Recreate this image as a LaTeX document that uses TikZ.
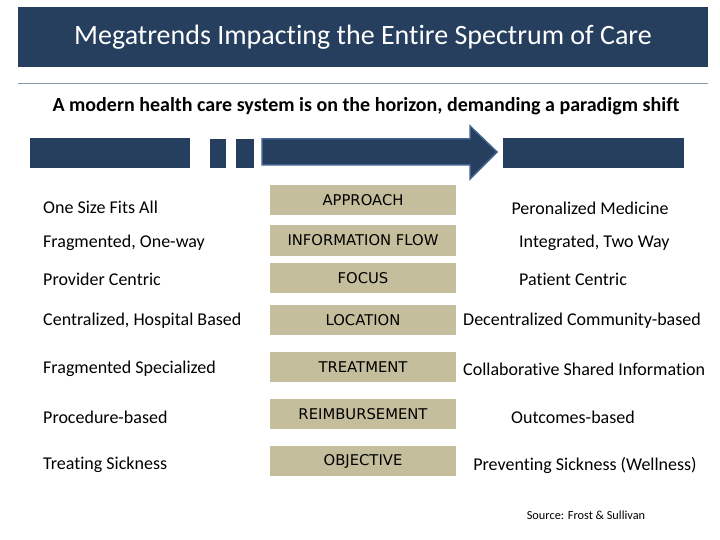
\documentclass[tikz,border=0pt]{standalone}
\usepackage{fontspec}
\setmainfont{Carlito}[Ligatures=NoCommon]
\newfontfamily\boxfont{DejaVu Sans}
\usepackage{tikz}
\usetikzlibrary{positioning}
\definecolor{navy}{HTML}{263F5E}
\definecolor{navyedge}{HTML}{41628C}
\definecolor{tan}{HTML}{C5BE9D}
\definecolor{rule}{HTML}{8497AE}

\begin{document}
\begin{tikzpicture}[
  x=1pt, y=-1pt,
  crit/.style={anchor=west, inner sep=0pt, font=\fontsize{18}{21}\selectfont},
  topic/.style={rectangle, fill=tan, minimum width=186pt, minimum height=30pt,
                inner sep=0pt, font=\boxfont\fontsize{14.8}{17}\selectfont},
  trend/.style={inner sep=0pt, font=\fontsize{18}{21}\selectfont}
]
  \useasboundingbox (0,0) rectangle (720,540);

  % Title band
  \node[rectangle, fill=navy, minimum width=690pt, minimum height=60pt,
        inner sep=0pt, text=white, font=\fontsize{28}{32}\selectfont]
        (title) at (363,37) {Megatrends Impacting the Entire Spectrum of Care};
  \coordinate (ruleL) at (18,84);
  \coordinate (ruleR) at (708,84);
  \draw[rule, line width=1pt] (ruleL) -- (ruleR);
  \node[font=\bfseries\fontsize{20}{24}\selectfont] (sub) at (366,106)
        {A modern health care system is on the horizon, demanding a paradigm shift};

  % Shift bar
  \fill[navy] (30,138) rectangle (190,168);
  \fill[navy] (210,139) rectangle (226,168);
  \fill[navy] (236,139) rectangle (254,168);
  \draw[navyedge, fill=navy, line width=1.5pt, line join=miter]
    (262,139) -- (470,139) -- (470,126) -- (497,152) -- (470,179)
    -- (470,165) -- (262,165) -- cycle;
  \fill[navy] (503,138) rectangle (684,168);

  % Current state
  \node[crit] (c1) at (43,207) {One Size Fits All};
  \node[crit] (c2) at (43,243) {Fragmented, One-way};
  \node[crit] (c3) at (43,279) {Provider Centric};
  \node[crit] (c4) at (43,321) {Centralized, Hospital Based};
  \node[crit] (c5) at (43,369) {Fragmented Specialized};
  \node[crit] (c6) at (43,417) {Procedure-based};
  \node[crit] (c7) at (43,465) {Treating Sickness};

  % Topics
  \node[topic] (t1) at (363,200) {APPROACH};
  \node[topic] (t2) at (363,240.5) {INFORMATION FLOW};
  \node[topic] (t3) at (363,278) {FOCUS};
  \node[topic] (t4) at (363,320) {LOCATION};
  \node[topic] (t5) at (363,367) {TREATMENT};
  \node[topic] (t6) at (363,414) {REIMBURSEMENT};
  \node[topic] (t7) at (363,461) {OBJECTIVE};

  % Future state
  \node[trend] (f1) at (590,208) {Peronalized Medicine};
  \node[trend, anchor=west] (f2) at (519,243) {Integrated, Two Way};
  \node[trend, anchor=west] (f3) at (519,279) {Patient Centric};
  \node[trend, anchor=west] (f4) at (463,321) {Decentralized Community-based};
  \node[trend, anchor=west] (f5) at (463,369) {Collaborative Shared Information};
  \node[trend] (f6) at (573,417) {Outcomes-based};
  \node[trend] (f7) at (585,465) {Preventing Sickness (Wellness)};

  % Source
  \node[font=\fontsize{12.3}{14}\selectfont] (src) at (586,515) {Source: Frost \& Sullivan};
\end{tikzpicture}
\end{document}
